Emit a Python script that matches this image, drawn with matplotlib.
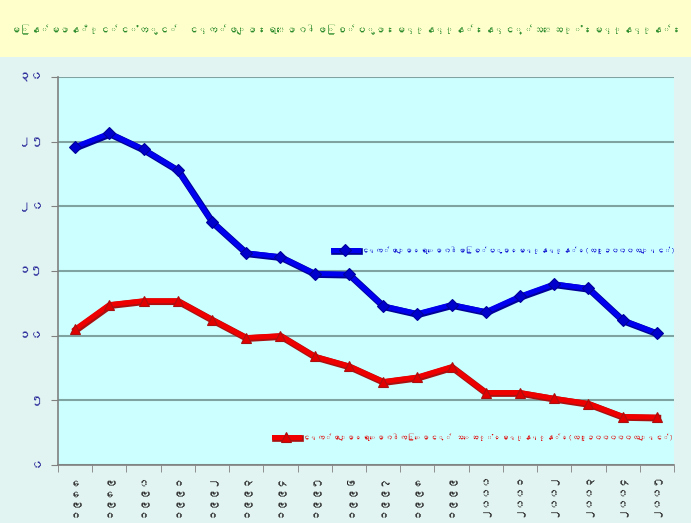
import numpy as np
import matplotlib
matplotlib.use('Agg')
import matplotlib.pyplot as plt
import matplotlib.patheffects as pe
from matplotlib import font_manager
from matplotlib.ft2font import FT2Font

# Datos
years = list(range(1988, 2006))
incidence = [24.6, 25.65, 24.4, 22.8, 18.8, 16.4, 16.1, 14.8, 14.75,
             12.3, 11.7, 12.4, 11.85, 13.05, 14.0, 13.65, 11.2, 10.2]
mortality = [10.5, 12.4, 12.7, 12.7, 11.25, 9.85, 10.0, 8.4, 7.65,
             6.45, 6.8, 7.6, 5.6, 5.6, 5.15, 4.75, 3.75, 3.7]
y_ticks = [0, 5, 10, 15, 20, 25, 30]

title = "မြန်မာနိုင်ငံတွင်  ငှက်ဖျားရောဂါဖြစ်ပွားမှုနှုန်းနှင့်သေဆုံးမှုနှုန်း"
label_inc = "ငှက်ဖျားရောဂါဖြစ်ပွားမှုနှုန်း(လူ၁၀၀၀လျှင်)"
label_mort = "ငှက်ဖျားရောဂါကြောင့် သေဆုံးမှုနှုန်း(လူ၁၀၀၀၀၀လျှင်)"

# Dígitos birmanos
to_my = str.maketrans("0123456789", "၀၁၂၃၄၅၆၇၈၉")
x_labels = [str(y).translate(to_my) for y in years]
y_labels = [str(v).translate(to_my) for v in y_ticks]

# Buscar una fuente con glifos birmanos
my_family = None
for f in font_manager.findSystemFonts():
    try:
        if 0x1019 in FT2Font(f).get_charmap():
            font_manager.fontManager.addfont(f)
            my_family = font_manager.FontProperties(fname=f).get_name()
            break
    except Exception:
        pass
families = [my_family, 'DejaVu Sans'] if my_family else ['Noto Sans', 'DejaVu Sans']
plt.rcParams['font.family'] = families

fig = plt.figure(figsize=(6.91, 5.23), dpi=100)
fig.patch.set_facecolor('#E2F4F1')
renderer = fig.canvas.get_renderer()


# Tamaño de letra para que un texto quepa en un ancho/alto dado (píxeles)
def fit_size(s, max_w=None, max_h=None, rotation=0):
    t = fig.text(0, 0, s, fontsize=10, rotation=rotation)
    bb = t.get_window_extent(renderer)
    t.remove()
    sizes = [30]
    if max_w:
        sizes.append(10 * max_w / bb.width)
    if max_h:
        sizes.append(10 * max_h / bb.height)
    return min(sizes)


# Banda del título
band = fig.add_axes([0, 1 - 57 / 523, 1, 57 / 523])
band.set_facecolor('#FFFFCC')
band.set_xticks([])
band.set_yticks([])
for s in band.spines.values():
    s.set_visible(False)
band.text(0.5, 0.5, title, ha='center', va='center',
          fontsize=fit_size(title, 670), color='#2A8A2A')

ax = fig.add_axes([58 / 691, 58 / 523, 616 / 691, 388 / 523])
ax.set_facecolor('#CCFFFF')

x = np.arange(len(years))
# líneas con sombra, marcadores aparte para que no engorden
l1, = ax.plot(x, incidence, color='#0000EE', lw=3.6, zorder=3,
              path_effects=[pe.Stroke(linewidth=4.8, foreground='#000099', offset=(0.7, -0.7)), pe.Normal()])
m1, = ax.plot(x, incidence, ls='none', marker='D', ms=6, color='#0000CC', mec='#000099', mew=0.8, zorder=4)
l2, = ax.plot(x, mortality, color='#EE0000', lw=3.6, zorder=3,
              path_effects=[pe.Stroke(linewidth=4.8, foreground='#AA1010', offset=(0.7, -0.7)), pe.Normal()])
m2, = ax.plot(x, mortality, ls='none', marker='^', ms=7, color='#E00000', mec='#AA1010', mew=0.8, zorder=4)

xsize = min(fit_size(s, max_w=30, max_h=44, rotation=90) for s in x_labels)
ysize = min(fit_size(s, max_w=24) for s in y_labels)

ax.set_xlim(-0.5, len(years) - 0.5)
ax.set_ylim(0, 30)
ax.set_yticks(y_ticks)
ax.set_yticklabels(y_labels, color='#2B2B9A', fontsize=ysize)
ax.set_xticks(x)
ax.set_xticklabels(x_labels, rotation=90, fontsize=xsize, color='#222222')
ax.set_xticks(np.arange(len(years) + 1) - 0.5, minor=True)
ax.tick_params(axis='x', which='major', length=0, pad=6)
ax.tick_params(axis='x', which='minor', length=5, color='#808080')
ax.tick_params(axis='y', length=5, color='#808080', pad=6)

ax.grid(axis='y', color='#7FA3A0', lw=1.5, zorder=0)
ax.set_axisbelow(True)
for side in ['top', 'right']:
    ax.spines[side].set_visible(False)
for side in ['left', 'bottom']:
    ax.spines[side].set_color('#808080')
    ax.spines[side].set_linewidth(1.2)

s1 = fit_size(label_inc, 315)
s2 = fit_size(label_mort, 372)
leg1 = ax.legend([(l1, m1)], [label_inc], loc='center left', bbox_to_anchor=(0.446, 0.554),
                 frameon=False, fontsize=s1, handlelength=25 / (s1 * 100 / 72),
                 handletextpad=0.4, borderpad=0, borderaxespad=0)
for t in leg1.get_texts():
    t.set_color('#0000CC')
ax.add_artist(leg1)
leg2 = ax.legend([(l2, m2)], [label_mort], loc='center left', bbox_to_anchor=(0.35, 0.072),
                 frameon=False, fontsize=s2, handlelength=25 / (s2 * 100 / 72),
                 handletextpad=0.4, borderpad=0, borderaxespad=0)
for t in leg2.get_texts():
    t.set_color('#E00000')

fig.savefig('out.png', dpi=100, facecolor=fig.get_facecolor())
